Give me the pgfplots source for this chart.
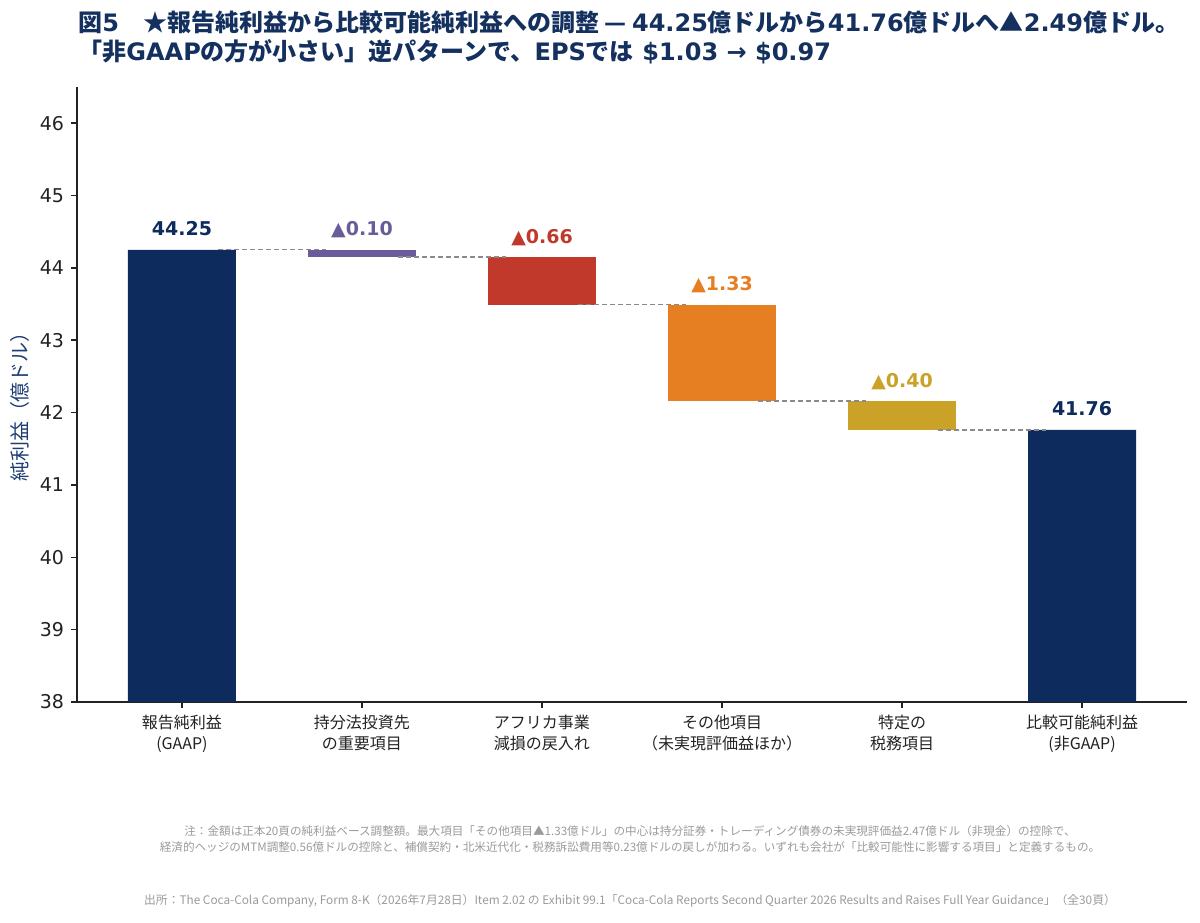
\documentclass[border=0pt]{standalone}
\usepackage{fontspec}
\setmainfont{DejaVu Sans}
\newfontfamily\cjk{Noto Sans CJK JP}
\usepackage{pgfplots}
\pgfplotsset{compat=1.18}
\definecolor{navy}{HTML}{0D2B5C}
\definecolor{titlec}{HTML}{13305E}
\definecolor{purp}{HTML}{6A5C9A}
\definecolor{redc}{HTML}{C0392B}
\definecolor{orangec}{HTML}{E67E22}
\definecolor{goldc}{HTML}{C9A227}
\definecolor{dashc}{HTML}{8A8A8A}
\definecolor{axisc}{HTML}{222222}
\definecolor{notec}{HTML}{9A9A9A}
\definecolor{ylabc}{HTML}{1F3F73}
\newcommand{\J}[1]{{\cjk #1}}
\pgfplotsset{
  common/.style={at={(0,0)}, anchor=south west,
    scale only axis, width=555pt, height=307.5pt,
    xmin=-0.583, xmax=5.583, ymin=38, ymax=46.5},
  barlab/.style={only marks, mark=*, mark size=0pt,
    mark options={draw=none, fill=none}, nodes near coords, point meta=explicit symbolic,
    nodes near coords style={font=\bfseries\fontsize{9.5}{11}\selectfont, text=#1, anchor=base, yshift=7pt}},
  conn/.style={sharp plot, no marks, color=dashc, dash pattern=on 2.5pt off 1.5pt, line width=0.7pt},
}
\begin{document}
\begin{tikzpicture}
\path[use as bounding box] (-38.5pt,-110pt) rectangle (561.5pt,351pt);
\begin{axis}[common,
  ybar stacked, bar width=0.6,
  axis x line*=bottom, axis y line*=left,
  xtick={0,1,2,3,4,5},
  xticklabels={{報告純利益\\(GAAP)},{持分法投資先\\の重要項目},{アフリカ事業\\減損の戻入れ},{その他項目\\（未実現評価益ほか）},{特定の\\税務項目},{比較可能純利益\\(非GAAP)}},
  ytick={38,39,40,41,42,43,44,45,46},
  tick align=outside, major tick length=3pt,
  axis line style={line width=0.75pt, color=axisc},
  tick style={line width=0.75pt, color=axisc},
  /pgf/number format/assume math mode=true,
  yticklabel style={font=\fontsize{9.5}{11}\selectfont, text=axisc},
  xticklabel style={font=\cjk\fontsize{8}{10.5}\selectfont, align=center, text=axisc},
]
% invisible base
\addplot[draw=none, fill=none] coordinates {(0,0) (1,44.15) (2,43.49) (3,42.16) (4,41.76) (5,0)};
\addplot[draw=none, fill=navy] coordinates {(0,44.25) (1,0) (2,0) (3,0) (4,0) (5,41.76)};
\addplot[draw=none, fill=purp] coordinates {(0,0) (1,0.10) (2,0) (3,0) (4,0) (5,0)};
\addplot[draw=none, fill=redc] coordinates {(0,0) (1,0) (2,0.66) (3,0) (4,0) (5,0)};
\addplot[draw=none, fill=orangec] coordinates {(0,0) (1,0) (2,0) (3,1.33) (4,0) (5,0)};
\addplot[draw=none, fill=goldc] coordinates {(0,0) (1,0) (2,0) (3,0) (4,0.40) (5,0)};
\end{axis}
\begin{axis}[common, hide axis, clip=false]
% connectors
\addplot[conn] coordinates {(0.2,44.25) (0.8,44.25)};
\addplot[conn] coordinates {(1.2,44.15) (1.8,44.15)};
\addplot[conn] coordinates {(2.2,43.49) (2.8,43.49)};
\addplot[conn] coordinates {(3.2,42.16) (3.8,42.16)};
\addplot[conn] coordinates {(4.2,41.76) (4.8,41.76)};
% labels
\addplot[barlab=navy] coordinates {(0,44.25)[44.25] (5,41.76)[41.76]};
\addplot[barlab=purp] coordinates {(1,44.25)[▲0.10]};
\addplot[barlab=redc] coordinates {(2,44.15)[▲0.66]};
\addplot[barlab=orangec] coordinates {(3,43.49)[▲1.33]};
\addplot[barlab=goldc] coordinates {(4,42.16)[▲0.40]};
\end{axis}
\node[rotate=90, text=ylabc, font=\cjk\fontsize{10}{12}\selectfont] at (-28.5pt,150pt) {純利益（億ドル）};
\node[anchor=west, inner sep=0pt, text=titlec, font=\bfseries\fontsize{12}{14}\selectfont] at (0.5pt,340pt)
  {\J{図}5\J{　★報告純利益から比較可能純利益への調整 — }44.25\J{億ドルから}41.76\J{億ドルへ▲}2.49\J{億ドル。}};
\node[anchor=west, inner sep=0pt, text=titlec, font=\bfseries\fontsize{12}{14}\selectfont] at (0.5pt,325pt)
  {\J{「非}GAAP\J{の方が小さい」逆パターンで、}EPS\J{では} \$1.03 → \$0.97};
\node[text=notec, font=\cjk\fontsize{5.8}{8}\selectfont] at (276.5pt,-64.5pt)
  {注：金額は正本20頁の純利益ベース調整額。最大項目「その他項目▲1.33億ドル」の中心は持分証券・トレーディング債券の未実現評価益2.47億ドル（非現金）の控除で、};
\node[text=notec, font=\cjk\fontsize{5.8}{8}\selectfont] at (276.5pt,-72.5pt)
  {経済的ヘッジのMTM調整0.56億ドルの控除と、補償契約・北米近代化・税務訴訟費用等0.23億ドルの戻しが加わる。いずれも会社が「比較可能性に影響する項目」と定義するもの。};
\node[text=notec, font=\cjk\fontsize{5.9}{8}\selectfont] at (276.5pt,-99.5pt)
  {出所：The Coca-Cola Company, Form 8-K（2026年7月28日）Item 2.02 の Exhibit 99.1「Coca-Cola Reports Second Quarter 2026 Results and Raises Full Year Guidance」（全30頁）};
\end{tikzpicture}
\end{document}
